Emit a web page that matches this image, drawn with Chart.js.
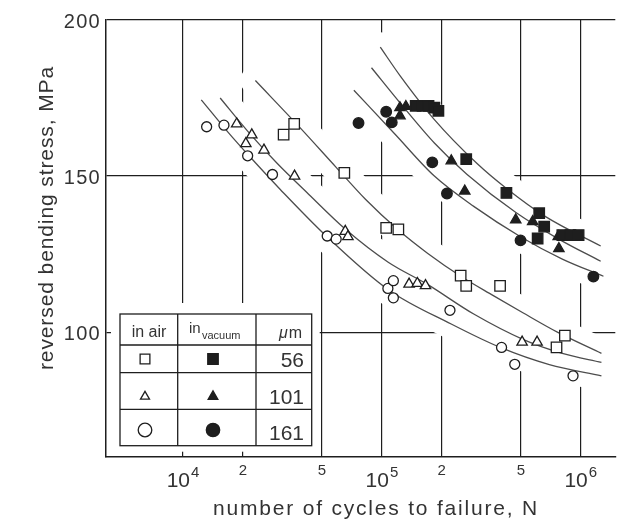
<!DOCTYPE html>
<html>
<head>
<meta charset="utf-8">
<title>Reversed bending stress vs cycles to failure</title>
<script src="https://cdn.jsdelivr.net/npm/chart.js@4.4.1/dist/chart.umd.min.js"></script>
<style>
html,body{margin:0;padding:0;background:#fff;}
#wrap{position:relative;width:624px;height:525px;}
canvas{display:block;}
</style>
</head>
<body>
<div id="wrap"><canvas id="chart" width="624" height="525"></canvas></div>
<script>
// ---------------- data (N = cycles to failure, S = stress in MPa) ----------------
const xTickValues = [1e4, 2e4, 5e4, 1e5, 2e5, 5e5, 1e6];
const xTickBase   = ['10', '2', '5', '10', '2', '5', '10'];
const xTickExp    = ['4', '', '', '5', '', '', '6'];
const yTickValues = [100, 150, 200];
const xTitle = 'number of cycles to failure, N';
const yTitle = 'reversed bending stress, MPa';
const grainSizes = ['56', '101', '161'];

// measured points, in air (open symbols)
const airSquares   = [[32060,163.3],[36230,166.7],[64740,151.0],[105100,133.4],[121000,132.9],[248900,118.1],[265400,114.8],[392800,114.8],[755000,95.1],[831700,98.9]];
const airTriangles = [[18620,166.7],[20700,160.4],[22180,163.2],[25540,158.3],[36390,150.0],[65450,132.3],[67500,130.6],[137000,115.4],[150700,115.6],[165700,114.9],[507000,96.8],[602800,96.8]];
const airCircles   = [[13150,165.8],[16070,166.3],[21140,156.5],[28180,150.5],[53100,130.8],[58900,129.8],[107200,114.0],[114200,116.5],[114200,111.0],[219900,107.0],[399600,95.1],[465600,89.7],[914000,86.0]];
// measured points, in vacuum (filled symbols)
const vacSquares   = [[147900,172.5],[160200,172.5],[171600,172.5],[183600,171.9],[192400,170.9],[265500,155.4],[422800,144.6],[606800,130.0],[618000,138.1],[654600,133.8],[807500,131.1],[887000,131.1],[975000,131.1]];
const vacTriangles = [[123300,171.9],[132000,172.3],[123300,169.3],[223300,154.9],[261000,145.2],[470800,136.0],[573000,135.4],[770000,130.6],[776000,126.8]];
const vacCircles   = [[76300,167.0],[105100,170.6],[112100,167.2],[179200,154.4],[212400,144.4],[497800,129.4],[1157000,117.8]];

// fitted S-N curves
const fitAir56  = [[23120,180.6],[38640,165.6],[58900,152.8],[82900,142.5],[120600,132.8],[169500,125.3],[249300,117.9],[363300,111.7],[511500,106.2],[762400,100.0],[1270000,93.2]];
const fitAir101 = [[15380,175.0],[21130,164.4],[29720,154.1],[41850,144.8],[65190,133.1],[107600,122.4],[169500,115.3],[289600,105.8],[511500,97.7],[807500,93.2],[1270000,90.3]];
const fitAir161 = [[12360,174.4],[16830,164.1],[22350,155.3],[30760,145.8],[53100,130.5],[107600,113.6],[223100,102.6],[393700,95.1],[694700,89.6],[1270000,86.0]];
const fitVac56  = [[98170,191.3],[123300,182.2],[183600,168.1],[300000,154.1],[421700,146.1],[665000,137.0],[1259000,127.6]];
const fitVac101 = [[88670,184.7],[124700,173.1],[183600,160.6],[267300,150.6],[471900,138.3],[770300,129.9],[1259000,122.7]];
const fitVac161 = [[72300,177.5],[116500,163.4],[183600,150.0],[289600,140.3],[500000,130.5],[807500,123.4],[1300000,117.9]];

// ---------------- styling ----------------
const FONT = '"Liberation Sans", Arial, Helvetica, sans-serif';
const INK  = '#1e1e1e';
const TXT  = '#333333';
const LINE = '#4d4d4d';
const toPts = a => a.map(([x, y]) => ({x, y}));

const fits = [fitAir56, fitAir101, fitAir161, fitVac56, fitVac101, fitVac161];
const datasets = [];
// white halos: interrupt the grid lines around the curves, as in the printed figure
fits.forEach(f => datasets.push({
  data: toPts(f), showLine: true, borderColor: '#ffffff', borderWidth: 30,
  borderCapStyle: 'round', pointRadius: 0, cubicInterpolationMode: 'monotone', order: 3
}));
fits.forEach(f => datasets.push({
  data: toPts(f), showLine: true, borderColor: LINE, borderWidth: 1.3,
  pointRadius: 0, cubicInterpolationMode: 'monotone', order: 2
}));

const markerSeries = [
  {label: 'air 56',     data: airSquares,   style: 'rect',     r: 7.4, fill: '#ffffff'},
  {label: 'air 101',    data: airTriangles, style: 'triangle', r: 6.0, fill: '#ffffff'},
  {label: 'air 161',    data: airCircles,   style: 'circle',   r: 5.0, fill: '#ffffff'},
  {label: 'vacuum 56',  data: vacSquares,   style: 'rect',     r: 7.4, fill: INK},
  {label: 'vacuum 101', data: vacTriangles, style: 'triangle', r: 6.0, fill: INK},
  {label: 'vacuum 161', data: vacCircles,   style: 'circle',   r: 5.3, fill: INK}
];
markerSeries.forEach(m => datasets.push({
  label: m.label, data: toPts(m.data), showLine: false,
  pointStyle: m.style, pointRadius: m.r, pointBackgroundColor: m.fill,
  pointBorderColor: INK, pointBorderWidth: 1.3, order: 0
}));

function txt(ctx, s, x, y, size, align, ls, style) {
  ctx.font = (style ? style + ' ' : '') + size + 'px ' + FONT;
  ctx.textAlign = align;
  ctx.textBaseline = 'alphabetic';
  ctx.letterSpacing = (ls || 0) + 'px';
  ctx.fillStyle = TXT;
  ctx.fillText(s, x, y);
}

const decor = {
  id: 'decor',
  afterDraw(chart) {
    const {ctx, chartArea: ca, scales: {x, y}} = chart;
    const H = Chart.helpers;
    ctx.save();

    // y tick labels
    yTickValues.forEach(v => {
      const py = y.getPixelForValue(v);
      txt(ctx, String(v), ca.left - 5, py + 7.5, 20, 'right', 1.3);
    });

    // x tick labels (with superscript exponents)
    xTickValues.forEach((v, i) => {
      const px = x.getPixelForValue(v);
      if (xTickExp[i]) {
        ctx.letterSpacing = '0px';
        ctx.font = '21px ' + FONT; const wb = ctx.measureText(xTickBase[i]).width;
        ctx.font = '15px ' + FONT; const we = ctx.measureText(xTickExp[i]).width;
        const s = px - (wb + we + 1) / 2;
        txt(ctx, xTickBase[i], s, ca.bottom + 30, 21, 'left');
        txt(ctx, xTickExp[i], s + wb + 1, ca.bottom + 20, 15, 'left');
      } else {
        txt(ctx, xTickBase[i], px, ca.bottom + 18, 15, 'center');
      }
    });

    // axis titles
    txt(ctx, xTitle, 376, 515, 21, 'center', 1.8);
    ctx.save();
    ctx.translate(53, 218);
    ctx.rotate(-Math.PI / 2);
    txt(ctx, yTitle, 0, 0, 21, 'center', 0.9);
    ctx.restore();

    // symbol table (legend)
    const L = ca.left + 14, T = ca.bottom - 143;
    const W = 191.7, Ht = 131.7;
    const cx = [L + 57.7, L + 136];
    const ry = [T + 31, T + 58.7, T + 95.3];
    ctx.fillStyle = '#ffffff';
    ctx.fillRect(L - 9, T - 11, W + 17, Ht + 17);
    ctx.strokeStyle = INK; ctx.lineWidth = 1.3;
    ctx.strokeRect(L, T, W, Ht);
    ctx.beginPath();
    cx.forEach(c => { ctx.moveTo(c, T); ctx.lineTo(c, T + Ht); });
    ry.forEach(r => { ctx.moveTo(L, r); ctx.lineTo(L + W, r); });
    ctx.stroke();

    txt(ctx, 'in air', L + 29, T + 23, 16, 'center');
    txt(ctx, 'in', L + 69, T + 19, 15, 'left');
    txt(ctx, 'vacuum', L + 82, T + 25, 11, 'left');
    txt(ctx, 'm', L + 182, T + 24, 16, 'right');
    ctx.font = '16px ' + FONT; const mw = ctx.measureText('m').width;
    txt(ctx, 'μ', L + 181 - mw, T + 24, 16, 'right', 0, 'italic');

    const rowC = [T + 45, T + 81, T + 116];
    const rowBase = [T + 53, T + 89.5, T + 125.5];
    const legStyles = [
      [{pointStyle: 'rect', radius: 6.9}, {pointStyle: 'rect', radius: 7.4}],
      [{pointStyle: 'triangle', radius: 5.2}, {pointStyle: 'triangle', radius: 5.6}],
      [{pointStyle: 'circle', radius: 6.8}, {pointStyle: 'circle', radius: 6.7}]
    ];
    grainSizes.forEach((g, i) => {
      ctx.letterSpacing = '0px';
      ctx.lineWidth = 1.3; ctx.strokeStyle = INK;
      ctx.fillStyle = '#ffffff';
      H.drawPoint(ctx, {pointStyle: legStyles[i][0].pointStyle, radius: legStyles[i][0].radius, rotation: 0, borderWidth: 1.3}, L + 25, rowC[i] + (i === 1 ? 1.5 : 0));
      ctx.fillStyle = INK;
      H.drawPoint(ctx, {pointStyle: legStyles[i][1].pointStyle, radius: legStyles[i][1].radius, rotation: 0, borderWidth: 1.3}, L + 93, rowC[i] + (i === 1 ? 1.5 : 0));
      txt(ctx, g, L + 184, rowBase[i], 21, 'right');
    });

    ctx.restore();
  }
};

new Chart(document.getElementById('chart'), {
  type: 'scatter',
  data: {datasets},
  options: {
    responsive: false,
    animation: false,
    events: [],
    layout: {padding: {top: 20, left: 0, right: 0, bottom: 0}},
    plugins: {legend: {display: false}, tooltip: {enabled: false}, title: {display: false}},
    scales: {
      x: {
        type: 'logarithmic', position: 'bottom', min: 4102, max: 1491000,
        afterBuildTicks: s => { s.ticks = xTickValues.map(v => ({value: v})); },
        ticks: {display: false},
        grid: {color: INK, lineWidth: 1.2, drawTicks: false},
        border: {display: true, color: INK, width: 1.5},
        afterFit: s => { s.height = 68; }
      },
      y: {
        type: 'linear', position: 'left', min: 60, max: 200,
        afterBuildTicks: s => { s.ticks = yTickValues.map(v => ({value: v})); },
        ticks: {display: false},
        grid: {color: INK, lineWidth: 1.2, drawTicks: false},
        border: {display: true, color: INK, width: 1.5},
        afterFit: s => { s.width = 106; }
      }
    }
  },
  plugins: [decor]
});
</script>
</body>
</html>
